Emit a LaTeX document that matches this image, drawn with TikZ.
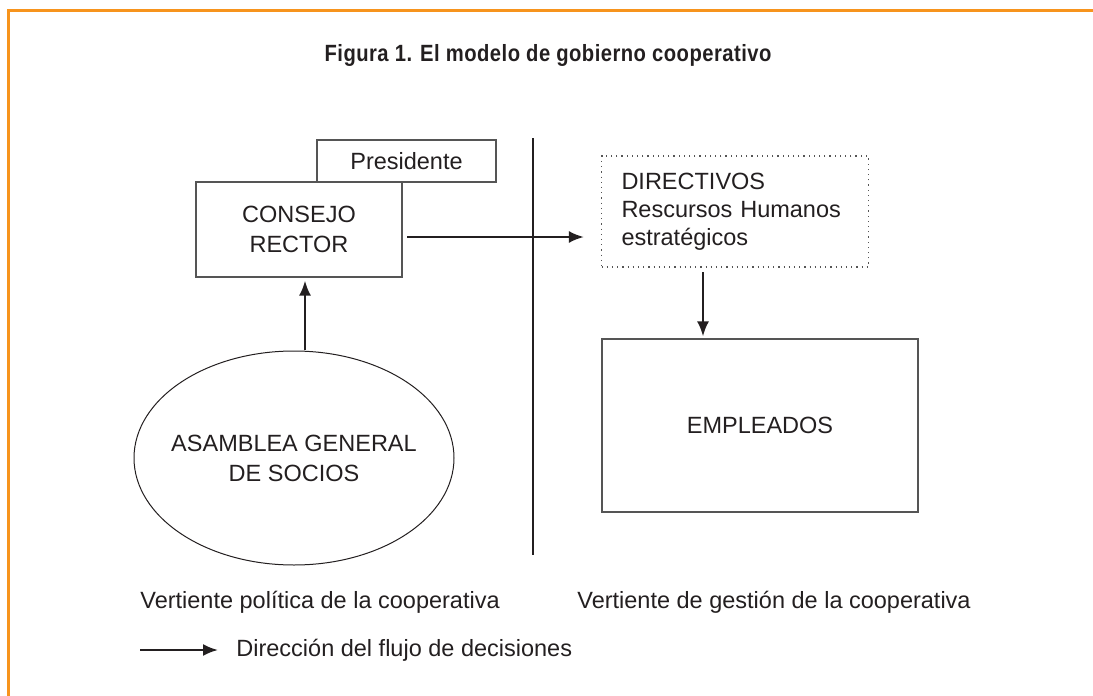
\documentclass[tikz,border=0pt]{standalone}
\usepackage{fontspec}
\setmainfont{Liberation Sans}
\newfontfamily\titlefont{Liberation Sans}[FakeStretch=0.86,LetterSpace=2]
\usetikzlibrary{shapes.geometric,arrows.meta,positioning,calc}
\definecolor{marco}{HTML}{F7941D}
\definecolor{tinta}{HTML}{231F20}
\definecolor{borde}{HTML}{555555}
\tikzset{
block/.style = {draw=borde, line width=0.6pt, fill=white, rectangle, inner sep=0pt, align=center},
dblock/.style = {draw=borde, dotted, line width=0.6pt, rectangle, inner sep=0pt},
circ/.style = {draw=tinta, line width=0.5pt, ellipse, inner sep=0pt},
tmp/.style = {coordinate},
txt/.style = {inner sep=0pt, anchor=west},
flow/.style = {->, draw=tinta, line width=1.1pt},
divider/.style = {draw=tinta, line width=1.2pt}
}

\begin{document}
\begin{tikzpicture}[x=0.5pt, y=-0.5pt, >={Latex[length=7.5pt,width=6pt]}, text=tinta, font=\fontsize{11.75}{15}\selectfont]
  \useasboundingbox (0,0) rectangle (1093,696);
  \draw [draw=marco, line width=1.3pt] (8.5,710) |- (1110,10.5);
  \node [font=\titlefont\fontsize{11.75}{13}\selectfont\bfseries] (titulo) at (548,55) {Figura 1. El modelo de gobierno cooperativo};

  \node [block, minimum width=103pt, minimum height=47.5pt]  (consejo)    at (299,229.5) {CONSEJO\\RECTOR};
  \node [block, minimum width=89.5pt, minimum height=21pt]   (presidente) at (406.5,161) {Presidente};
  \node [dblock, minimum width=133.5pt, minimum height=55.5pt, text width=113.5pt, align=left,
         font=\fontsize{11.75}{14}\selectfont]                (directivos) at (735,211.5) {DIRECTIVOS\\Rescursos Humanos\\estratégicos};
  \node [block, minimum width=158pt, minimum height=86.5pt]  (empleados)  at (760,425.5) {EMPLEADOS};
  \node [circ, minimum width=160pt, minimum height=107pt,
         label={[align=center]center:ASAMBLEA GENERAL\\DE SOCIOS}] (asamblea) at (294,458) {};

  \node [tmp] (t1) at (407,237) {};
  \node [tmp] (t2) at (703,272) {};
  \node [tmp] (t3) at (305,350) {};
  \node [tmp] (t4) at (533,138) {};
  \node [tmp] (t5) at (533,555) {};

  \draw [flow, shorten >=8.5pt] (t1) -- (t1 -| directivos.west);
  \draw [flow, shorten >=1pt] (t2) -- (t2 |- empleados.north);
  \draw [flow, shorten >=1.5pt] (t3) -- (t3 |- consejo.south);
  \draw [divider] (t4) -- (t5);

  \node [txt] (politica) at (140,602) {Vertiente política de la cooperativa};
  \node [txt] (gestion)  at (577,602) {Vertiente de gestión de la cooperativa};
  \node [tmp] (l1) at (140,650) {};
  \node [txt] (leyenda)  at (236,650) {Dirección del flujo de decisiones};
  \draw [flow] (l1) -- ($(leyenda.west)+(-9pt,0)$);
\end{tikzpicture}
\end{document}
